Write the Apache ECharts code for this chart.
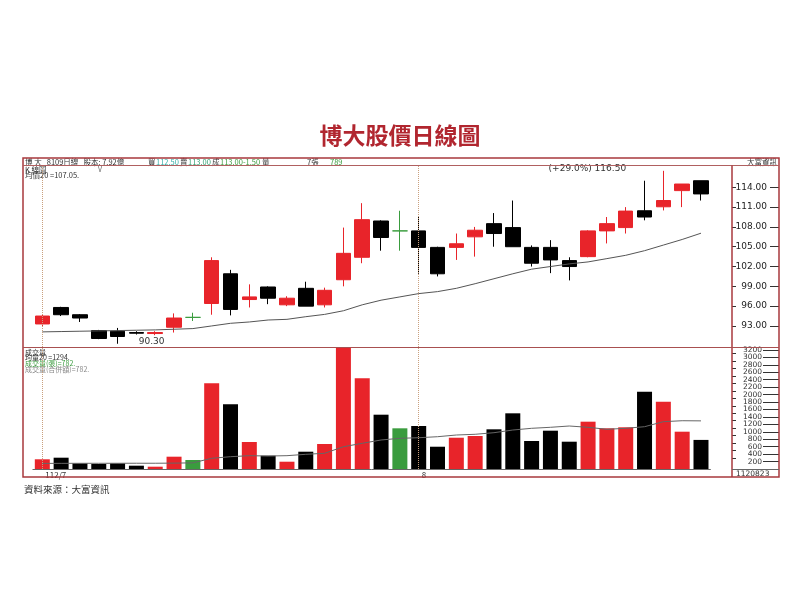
<!DOCTYPE html>
<html><head><meta charset="utf-8">
<script src="https://cdn.jsdelivr.net/npm/echarts@6/dist/echarts.min.js"></script>
<style>html,body{margin:0;padding:0;background:#fff}#c{width:800px;height:600px}</style>
</head><body><div id="c"></div>
<script>
// ---------- data ----------
const dateLabels = ['112/7','','','','','','','','','','','','','','','','','','','',
                    '8','','','','','','','','','','','','','','',''];
const opens  = [93.3,95.8,94.7,92.3,92.2,92.0,91.85,92.8,94.3,96.4,100.9,97.0,98.9,96.2,98.7,96.2,100.0,103.4,108.9,107.4,
                107.4,104.9,104.9,106.5,108.5,107.9,104.9,104.9,102.9,103.5,107.4,107.9,110.45,111.05,113.5,115.0];
const closes = [94.5,94.7,94.2,91.1,91.4,91.9,92.0,94.2,94.3,102.9,95.5,97.4,97.2,97.2,96.0,98.4,104.0,109.1,106.4,107.4,
                104.9,100.9,105.45,107.5,107.0,105.0,102.5,103.0,102.0,107.4,108.5,110.4,109.5,112.0,114.5,113.0];
const lows   = [92.9,94.5,93.6,91.0,90.3,91.7,91.6,92.0,93.75,94.7,94.6,95.8,96.3,96.0,96.0,95.8,99.0,102.5,104.4,104.4,
                100.9,100.5,103.0,103.5,105.0,105.0,102.0,101.0,99.9,103.4,105.5,107.0,109.0,110.5,111.0,112.0];
const highs  = [94.7,95.9,94.8,92.4,92.7,92.2,92.2,94.9,95.0,103.4,101.5,99.3,99.0,97.5,99.7,98.8,107.9,111.6,109.0,110.45,
                109.5,105.0,107.0,108.0,110.1,112.0,105.2,106.0,103.4,107.5,109.5,111.0,115.0,116.5,114.5,115.0];
const priceMa20 = [92.1,92.15,92.2,92.25,92.3,92.35,92.4,92.5,92.6,93.0,93.4,93.6,93.9,94.0,94.4,94.75,95.3,96.2,96.9,97.4,
                   97.9,98.2,98.7,99.4,100.15,100.9,101.6,102.0,102.4,102.7,103.2,103.7,104.4,105.25,106.1,107.05];
const volumes = [261,304,153,134,153,89,62,331,242,2304,1739,726,358,196,465,672,3250,2438,1460,1094,
                 1156,599,841,887,1067,1497,753,1030,734,1272,1094,1121,2078,1809,1003,782];
const volumeMa20 = [150,152,153,153,154,155,155,158,165,288,331,358,349,358,395,422,599,691,780,825,
                    841,868,914,933,976,1048,1094,1121,1156,1121,1067,1094,1137,1272,1298,1294];
const priceTicks = [93,96,99,102,105,108,111,114];
const volumeTicks = [200,400,600,800,1000,1200,1400,1600,1800,2000,2200,2400,2600,2800,3000,3200];
const volumeMinorTicks = [300,500,700,900,1100,1300,1500,1700,1900,2100,2300,2500,2700,2900,3100];

// ---------- derived ----------
const sessions = dateLabels.map((d, i) => String(i));
const monthStarts = dateLabels.map((d, i) => d ? i : -1).filter(i => i >= 0);
const volTicksA = volumeTicks.filter((v, i) => i % 2 === 0);
const volTicksB = volumeTicks.filter((v, i) => i % 2 === 1);
const RED = '#e8242a', BLACK = '#000000', GREEN = '#3a9c3e';
const candleData = opens.map((o, i) => [o, closes[i], lows[i], highs[i]]);
const volColor = i => closes[i] > opens[i] ? RED : (closes[i] < opens[i] ? BLACK : GREEN);
const volData = volumes.map((v, i) => ({ value: v, itemStyle: { color: volColor(i) } }));
let lowIdx = 0, highIdx = 0;
lows.forEach((v, i) => { if (v < lows[lowIdx]) lowIdx = i; });
highs.forEach((v, i) => { if (v > highs[highIdx]) highIdx = i; });
const pct = (highs[highIdx] / lows[lowIdx] - 1) * 100;

const FONT = '"Noto Sans CJK TC","Noto Sans",sans-serif';
const FRAME = '#a8383c';
const L = 32.9, W = 677.5;
const VMAX = 3253;

const volLabelAxis = (values, withTicks) => ({
  type: 'value', gridIndex: 1, min: 0, max: VMAX, position: 'right', offset: 68.6,
  axisLine: { show: false }, splitLine: { show: false },
  axisTick: { show: withTicks, inside: true, length: 16, customValues: volumeTicks, lineStyle: { color: '#333' } },
  axisLabel: { show: true, inside: true, margin: 17, customValues: values, fontSize: 7.5,
    color: '#333', hideOverlap: false, showMinLabel: true, showMaxLabel: true,
    fontFamily: 'DejaVu Sans', formatter: v => String(v) }
});

const chart = echarts.init(document.getElementById('c'), null, { renderer: 'canvas' });
chart.setOption({
  animation: false,
  backgroundColor: '#ffffff',
  textStyle: { fontFamily: FONT },
  grid: [
    { left: L, width: W, top: 166, height: 181 },
    { left: L, width: W, top: 348, height: 121 }
  ],
  xAxis: [
    { type: 'category', gridIndex: 0, data: sessions, boundaryGap: true,
      axisLine: { show: false }, axisTick: { show: false }, axisLabel: { show: false }, splitLine: { show: false } },
    { type: 'category', gridIndex: 1, data: sessions, boundaryGap: true,
      axisLine: { show: true, lineStyle: { color: '#666', width: 1 } },
      axisTick: { show: false },
      axisLabel: { show: true, interval: 0, align: 'left', margin: 2, fontSize: 8, color: '#333',
        padding: [0, 0, 0, 3], formatter: (v, i) => dateLabels[i] },
      splitLine: { show: false } }
  ],
  yAxis: [
    { type: 'value', gridIndex: 0, min: 89.81, max: 117.23, position: 'right', offset: 68.6,
      axisLine: { show: false }, splitLine: { show: false },
      axisTick: { show: true, inside: true, length: 9, customValues: priceTicks, lineStyle: { color: '#333' } },
      axisLabel: { show: true, inside: true, margin: 12, customValues: priceTicks, fontSize: 9, color: '#222',
        hideOverlap: false, showMinLabel: true, showMaxLabel: true,
        fontFamily: 'DejaVu Sans', formatter: v => v.toFixed(2) } },
    { type: 'value', gridIndex: 0, min: 89.81, max: 117.23, position: 'right', offset: 21.6,
      axisLine: { show: false }, splitLine: { show: false },
      axisTick: { show: true, inside: false, length: 4, customValues: priceTicks, lineStyle: { color: '#333' } },
      axisLabel: { show: false } },
    volLabelAxis(volTicksA, true),
    { type: 'value', gridIndex: 1, min: 0, max: VMAX, position: 'right', offset: 21.6,
      axisLine: { show: false }, splitLine: { show: false },
      axisTick: { show: true, inside: false, length: 4, customValues: volumeMinorTicks, lineStyle: { color: '#333' } },
      axisLabel: { show: false } },
    volLabelAxis(volTicksB, false)
  ],
  series: [
    { type: 'candlestick', xAxisIndex: 0, yAxisIndex: 0, data: candleData, barWidth: 15,
      itemStyle: { color: RED, color0: BLACK, borderColor: RED, borderColor0: BLACK,
        borderColorDoji: GREEN, borderWidth: 1 },
      markLine: { symbol: 'none', silent: true, label: { show: false },
        lineStyle: { type: 'dotted', color: '#c9a07e', width: 1 },
        data: monthStarts.map(i => ({ xAxis: i })) },
      markPoint: { symbol: 'circle', symbolSize: 0, silent: true,
        data: [
          { coord: [lowIdx, lows[lowIdx]], label: { show: true, position: 'inside', offset: [34, -2],
              formatter: lows[lowIdx].toFixed(2), fontSize: 9, color: '#333', fontFamily: 'DejaVu Sans' } },
          { coord: [highIdx, highs[highIdx]], label: { show: true, position: 'inside', offset: [-76, -2],
              formatter: '(+' + pct.toFixed(1) + '%) ' + highs[highIdx].toFixed(2), fontSize: 9, color: '#333',
              fontFamily: 'DejaVu Sans' } }
        ] } },
    { type: 'line', xAxisIndex: 0, yAxisIndex: 0, data: priceMa20, showSymbol: false, symbol: 'none',
      lineStyle: { color: '#555', width: 1 }, z: 3 },
    { type: 'bar', xAxisIndex: 1, yAxisIndex: 2, data: volData, barWidth: 15,
      markLine: { symbol: 'none', silent: true, label: { show: false },
        lineStyle: { type: 'dotted', color: '#c9a07e', width: 1 },
        data: monthStarts.map(i => ({ xAxis: i })) } },
    { type: 'line', xAxisIndex: 1, yAxisIndex: 2, data: volumeMa20, showSymbol: false, symbol: 'none',
      lineStyle: { color: '#666', width: 1 }, z: 3 }
  ],
  graphic: [
    { type: 'text', left: 'center', top: 124, style: { text: '博大股價日線圖', fontSize: 23, fontWeight: 'bold',
        fill: '#b1262f', fontFamily: FONT } },
    { type: 'rect', shape: { x: 23, y: 158, width: 756, height: 319 }, style: { fill: 'none', stroke: FRAME, lineWidth: 1.5 }, z: 10 },
    { type: 'line', shape: { x1: 23, y1: 165.5, x2: 779, y2: 165.5 }, style: { stroke: '#b06060', lineWidth: 1 }, z: 10 },
    { type: 'line', shape: { x1: 732, y1: 165.5, x2: 732, y2: 477 }, style: { stroke: FRAME, lineWidth: 1.5 }, z: 10 },
    { type: 'line', shape: { x1: 23, y1: 347.5, x2: 779, y2: 347.5 }, style: { stroke: '#a85050', lineWidth: 1.2 }, z: 10 },
    { type: 'line', shape: { x1: 732, y1: 469.5, x2: 779, y2: 469.5 }, style: { stroke: '#666', lineWidth: 1 }, z: 10 },
    // header row
    { type: 'text', x: 25, y: 158.5, style: { text: '博 大   8109日線   股本: 7.92億', fontSize: 7.5, fill: '#333', fontFamily: FONT } },
    { type: 'text', x: 148, y: 158.5, style: { text: '買', fontSize: 7.5, fill: '#333', fontFamily: FONT } },
    { type: 'text', x: 156, y: 158.5, style: { text: '112.50', fontSize: 7.5, fill: '#35b0a8', fontFamily: FONT } },
    { type: 'text', x: 180, y: 158.5, style: { text: '賣', fontSize: 7.5, fill: '#333', fontFamily: FONT } },
    { type: 'text', x: 188, y: 158.5, style: { text: '113.00', fontSize: 7.5, fill: '#2f9f70', fontFamily: FONT } },
    { type: 'text', x: 212, y: 158.5, style: { text: '成', fontSize: 7.5, fill: '#333', fontFamily: FONT } },
    { type: 'text', x: 220, y: 158.5, style: { text: '113.00-1.50', fontSize: 7.5, fill: '#3a9c3e', fontFamily: FONT } },
    { type: 'text', x: 262, y: 158.5, style: { text: '量', fontSize: 7.5, fill: '#333', fontFamily: FONT } },
    { type: 'text', x: 307, y: 158.5, style: { text: '7張', fontSize: 7.5, fill: '#333', fontFamily: FONT } },
    { type: 'text', x: 330, y: 158.5, style: { text: '789', fontSize: 7.5, fill: '#3a9c3e', fontFamily: FONT } },
    { type: 'text', x: 747, y: 158.5, style: { text: '大富資訊', fontSize: 7.5, fill: '#333', fontFamily: FONT } },
    // price panel legend
    { type: 'text', x: 25, y: 166, style: { text: 'K 線圖', fontSize: 7.5, fill: '#333', fontFamily: FONT } },
    { type: 'text', x: 98, y: 165.5, style: { text: 'V', fontSize: 7, fill: '#666', fontFamily: FONT } },
    { type: 'text', x: 25, y: 171.5, style: { text: '均價20 =107.05.', fontSize: 7.5, fill: '#333', fontFamily: FONT } },
    // volume panel legend
    { type: 'text', x: 25, y: 348.5, style: { text: '成交量', fontSize: 7, fill: '#333', fontFamily: FONT } },
    { type: 'text', x: 25, y: 353.5, style: { text: '均量20 =1294.', fontSize: 7, fill: '#333', fontFamily: FONT } },
    { type: 'text', x: 25, y: 359.5, style: { text: '成交量(張)=782.', fontSize: 7, fill: '#3a9c3e', fontFamily: FONT } },
    { type: 'text', x: 25, y: 365.5, style: { text: '成交量(合併額)=782.', fontSize: 7, fill: '#888', fontFamily: FONT } },
    // bottom date at right
    { type: 'text', x: 736, y: 470, style: { text: '1120823', fontSize: 7.5, fill: '#333', fontFamily: 'DejaVu Sans' } },
    // source
    { type: 'text', x: 24, y: 485, style: { text: '資料來源：大富資訊', fontSize: 9.5, fill: '#333', fontFamily: FONT } }
  ]
});
</script>
</body></html>
